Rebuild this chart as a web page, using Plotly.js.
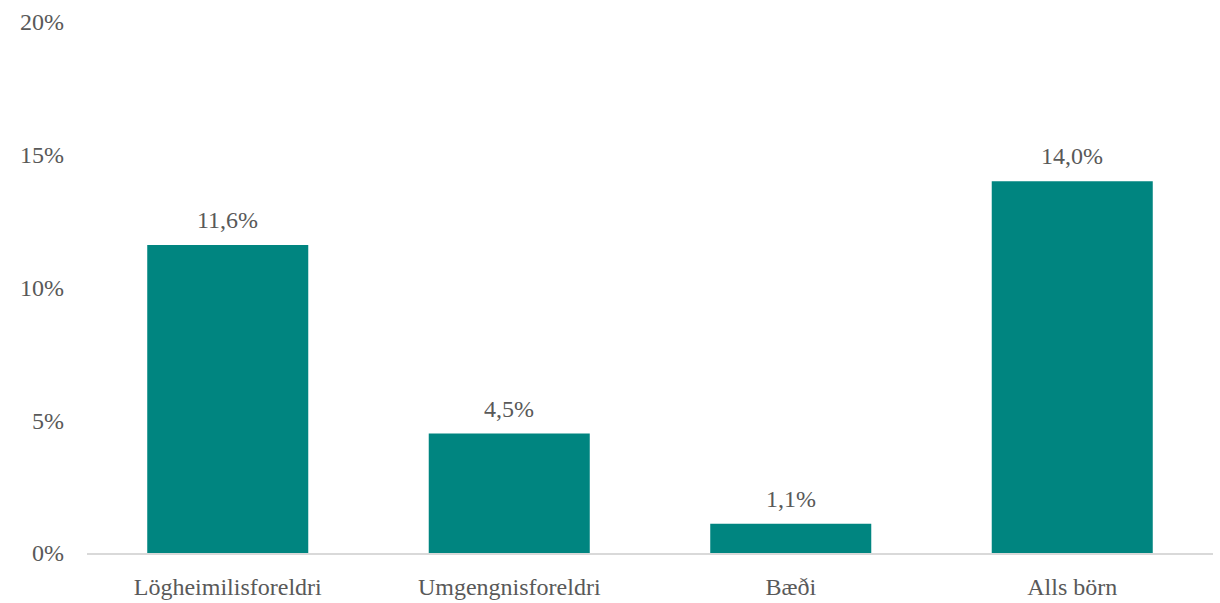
<!DOCTYPE html>
<html>
<head>
<meta charset="utf-8">
<script src="https://cdn.plot.ly/plotly-3.0.1.min.js"></script>
<style>html,body{margin:0;padding:0;background:#fff;}#chart{width:1220px;height:603px;}</style>
</head>
<body>
<div id="chart"></div>
<script>
const categories = ["Lögheimilisforeldri", "Umgengnisforeldri", "Bæði", "Alls börn"];
const values = [11.6, 4.5, 1.1, 14.0];
const yTicks = [0, 5, 10, 15, 20];

const fontFamily = "Liberation Serif, 'Times New Roman', serif";
const textColor = "#595959";
const fs = 24;

const trace = {
  type: "bar",
  x: categories,
  y: values,
  marker: {color: "#008580"},
  hoverinfo: "none"
};

const annotations = categories.map((c, i) => ({
  x: c,
  y: values[i],
  text: values[i].toFixed(1).replace(".", ",") + "%",
  showarrow: false,
  xanchor: "center",
  yanchor: "bottom",
  yshift: 10,
  font: {family: fontFamily, size: fs, color: textColor}
}));

const layout = {
  width: 1220,
  height: 603,
  margin: {l: 87, r: 7, t: 22, b: 50},
  paper_bgcolor: "#fff",
  plot_bgcolor: "#fff",
  bargap: 0.428,
  showlegend: false,
  font: {family: fontFamily, size: fs, color: textColor},
  xaxis: {
    showline: true,
    linecolor: "#d9d9d9",
    linewidth: 1.5,
    ticks: "",
    showgrid: false,
    zeroline: false,
    tickfont: {family: fontFamily, size: fs, color: textColor},
    ticklabelstandoff: 12
  },
  yaxis: {
    range: [0, 20],
    tickvals: yTicks,
    ticktext: yTicks.map(v => v + "%"),
    showgrid: false,
    zeroline: false,
    showline: false,
    ticks: "",
    tickfont: {family: fontFamily, size: fs, color: textColor},
    ticklabelstandoff: 22
  },
  annotations: annotations
};

Plotly.newPlot("chart", [trace], layout, {displayModeBar: false, staticPlot: true});
</script>
</body>
</html>
